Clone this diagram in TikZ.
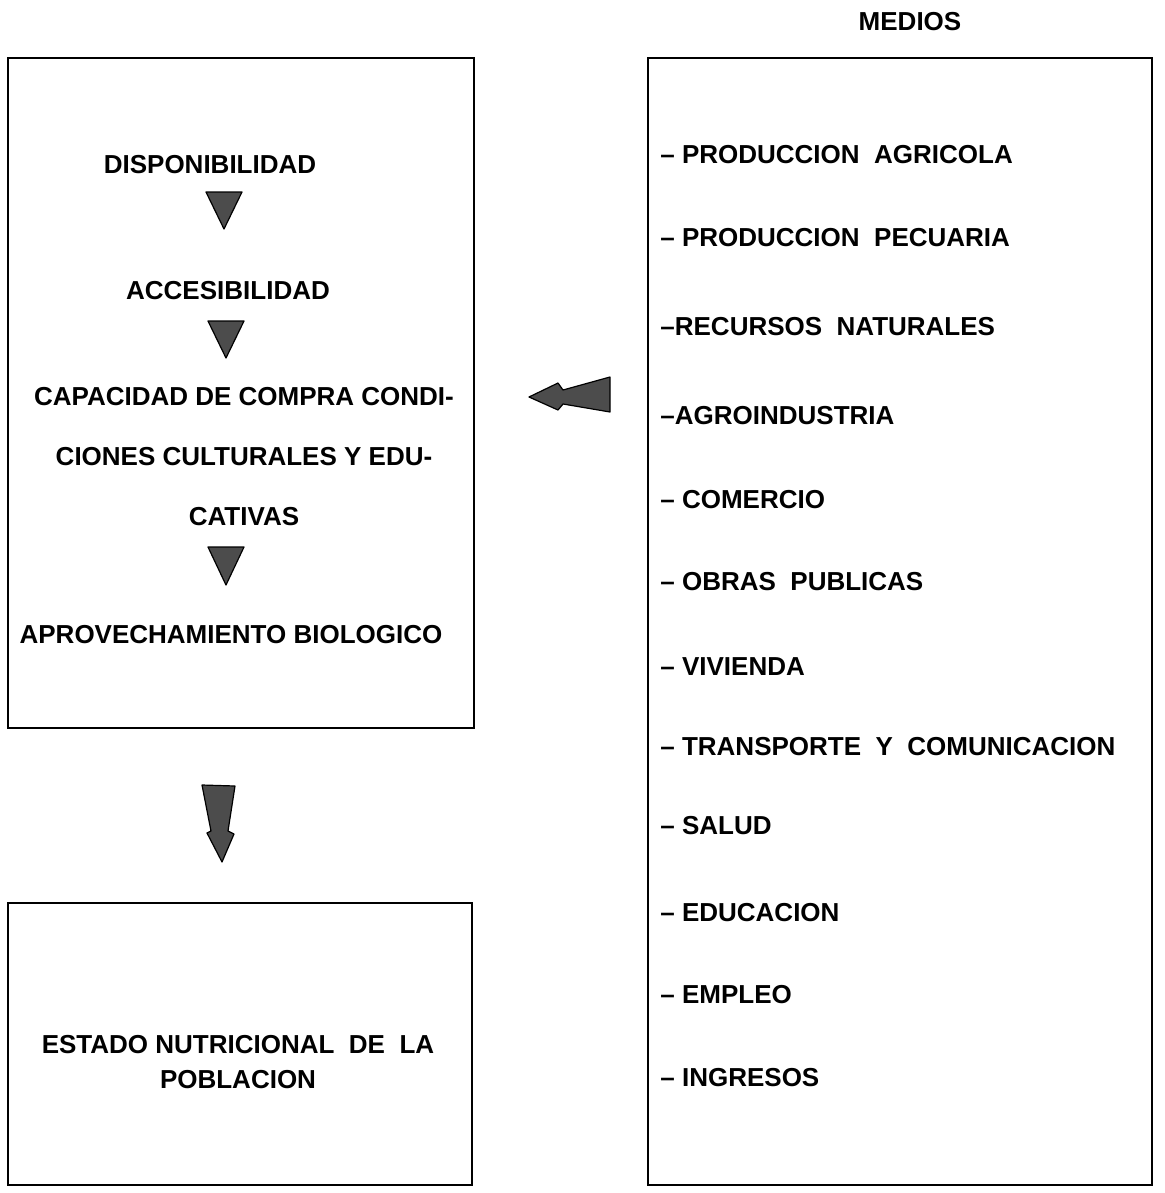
\documentclass[tikz,border=0pt]{standalone}
\usepackage{fontspec}
\setmainfont{Liberation Sans}
\usetikzlibrary{positioning}

\begin{document}
\begin{tikzpicture}[x=0.5pt, y=-0.5pt,
	box/.style={draw, line width=1.4pt},
	lbl/.style={font=\fontsize{13}{30}\selectfont\bfseries, inner sep=0pt},
	medio/.style={lbl, anchor=west},
	tri/.style={fill=black!70, draw=black, line width=0.6pt, line join=round}]
	\useasboundingbox (0,0) rectangle (1164,1193);

	% left box
	\draw [box] (8,58) rectangle (474,728);
	\node [lbl] (disp) at (210,165) {DISPONIBILIDAD};
	\filldraw [tri] (206,192) -- (242,192) -- (224,229) -- cycle;
	\node [lbl] (acce) at (228,291) {ACCESIBILIDAD};
	\filldraw [tri] (208,321) -- (244,321) -- (226,358) -- cycle;
	\node [lbl, align=center] (capa) at (244,457)
		{CAPACIDAD DE COMPRA CONDI-\\CIONES CULTURALES Y EDU-\\CATIVAS};
	\filldraw [tri] (208,547) -- (244,547) -- (226,585) -- cycle;
	\node [lbl] (apro) at (231,635) {APROVECHAMIENTO BIOLOGICO};

	% arrow down
	\filldraw [tri] (202,785) -- (235,786) -- (228,831) -- (234,834)
		-- (222,862) -- (207,833) -- (211,831) -- cycle;

	% bottom box
	\draw [box] (8,903) rectangle (472,1185);
	\node [lbl, align=center, font=\fontsize{13}{17.5}\selectfont\bfseries] (esta) at (238,1062)
		{ESTADO NUTRICIONAL\ \ DE\ \ LA\\POBLACION};

	% arrow left
	\filldraw [tri] (529,397) -- (558,383) -- (563,390) -- (610,377)
		-- (610,412) -- (563,404) -- (558,410) -- cycle;

	% medios
	\node [lbl] (medios) at (910,22) {MEDIOS};
	\draw [box] (648,58) rectangle (1152,1185);
	\foreach \y/\t/\n in {
		155/{– PRODUCCION\ \ AGRICOLA}/agri,
		238/{– PRODUCCION\ \ PECUARIA}/pecu,
		327/{–RECURSOS\ \ NATURALES}/recu,
		416/{–AGROINDUSTRIA}/agro,
		500/{– COMERCIO}/come,
		582/{– OBRAS\ \ PUBLICAS}/obra,
		667/{– VIVIENDA}/vivi,
		747/{– TRANSPORTE\ \ Y\ \ COMUNICACION}/tran,
		826/{– SALUD}/salu,
		913/{– EDUCACION}/educ,
		995/{– EMPLEO}/empl,
		1078/{– INGRESOS}/ingr}
		\node [medio] (\n) at (660,\y) {\t};
\end{tikzpicture}
\end{document}
